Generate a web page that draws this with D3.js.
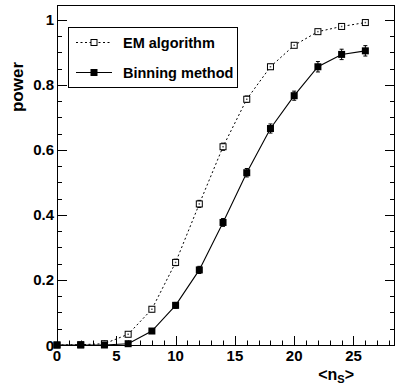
<!DOCTYPE html>
<html><head><meta charset="utf-8">
<script src="https://cdn.jsdelivr.net/npm/d3@7"></script>
<style>body{margin:0;background:#fff}svg{display:block}</style>
</head><body>
<script>
const nsValues = [0,2,4,6,8,10,12,14,16,18,20,22,24,26];
const emPower  = [0,0.001,0.004,0.033,0.11,0.254,0.434,0.61,0.756,0.856,0.922,0.964,0.98,0.992];
const emErr    = [0,0.002,0.003,0.005,0.008,0.01,0.011,0.011,0.01,0.008,0.006,0.005,0.004,0.003];
const binPower = [0,0,0,0.004,0.043,0.122,0.231,0.377,0.53,0.666,0.767,0.856,0.894,0.905];
const binErr   = [0,0.002,0.002,0.003,0.006,0.009,0.011,0.012,0.013,0.014,0.014,0.016,0.016,0.016];
const xTickLabels = [0,5,10,15,20,25];
const yTickLabels = [0,0.2,0.4,0.6,0.8,1];
const seriesNames = ["EM algorithm","Binning method"];

const W=395,H=388;
const L=57,T=5,R=395,B=345;
const svg=d3.select("body").append("svg").attr("width",W).attr("height",H);
const x=d3.scaleLinear().domain([0,28.5]).range([L,R]);
const y=d3.scaleLinear().domain([0,1.046]).range([B,T]);
const font="Liberation Sans, Arial, Helvetica, sans-serif";

// frame
svg.append("rect").attr("x",L+0.5).attr("y",T+0.5).attr("width",R-L-1).attr("height",B-T)
  .attr("fill","none").attr("stroke","#000").attr("stroke-width",1);

// x axis ticks
const xAxis=d3.axisBottom(x).tickValues(d3.range(0,29,1)).tickSize(0).tickFormat("");
const gx=svg.append("g");
d3.range(0,29,1).forEach(v=>{
  const len = v%5===0?9:4.5;
  gx.append("line").attr("x1",Math.round(x(v))+0.5).attr("x2",Math.round(x(v))+0.5)
    .attr("y1",B).attr("y2",B-len).attr("stroke","#000");
});
gx.selectAll("text.xt").data(xTickLabels).enter().append("text")
  .attr("x",d=>x(d)).attr("y",B+16).attr("text-anchor","middle")
  .attr("font-family",font).attr("font-weight","bold").attr("font-size",15).text(d=>d);

// y axis ticks (left and right)
const gy=svg.append("g");
d3.range(0,21,1).map(i=>i*0.05).forEach((v,i)=>{
  const len = i%4===0?10:5;
  const yy=Math.round(y(v))+0.5;
  gy.append("line").attr("x1",L).attr("x2",L+len).attr("y1",yy).attr("y2",yy).attr("stroke","#000");
  gy.append("line").attr("x1",R).attr("x2",R-len).attr("y1",yy).attr("y2",yy).attr("stroke","#000");
});
gy.selectAll("text.yt").data(yTickLabels).enter().append("text")
  .attr("x",L-3).attr("y",d=>y(d)+5.5).attr("text-anchor","end")
  .attr("font-family",font).attr("font-weight","bold").attr("font-size",15).text(d=>d);

// axis titles
svg.append("text").attr("transform",`translate(23,62) rotate(-90)`).attr("text-anchor","end")
  .attr("font-family",font).attr("font-weight","bold").attr("font-size",17).text("power");
const xt=svg.append("text").attr("x",354).attr("y",380).attr("text-anchor","end")
  .attr("font-family",font).attr("font-weight","bold").attr("font-size",16);
xt.append("tspan").text("<n");
xt.append("tspan").attr("font-size",11).attr("dy",3).text("S");
xt.append("tspan").attr("dy",-3).text(">");

const line=d3.line().x(d=>x(d[0])).y(d=>y(d[1]));
const emData=nsValues.map((v,i)=>[v,emPower[i],emErr[i]]);
const binData=nsValues.map((v,i)=>[v,binPower[i],binErr[i]]);

// lines
svg.append("path").datum(emData).attr("d",line).attr("fill","none").attr("stroke","#000")
  .attr("stroke-width",1).attr("stroke-dasharray","2,2.5");
svg.append("path").datum(binData).attr("d",line).attr("fill","none").attr("stroke","#000")
  .attr("stroke-width",1.1);

function errBars(data){
  const g=svg.append("g").attr("stroke","#000").attr("stroke-width",1);
  data.forEach(d=>{
    const cx=x(d[0]), y1=y(d[1]-d[2]), y2=y(d[1]+d[2]);
    if(y1-y2<4) return;
    g.append("line").attr("x1",cx).attr("x2",cx).attr("y1",y1).attr("y2",y2);
    g.append("line").attr("x1",cx-2).attr("x2",cx+2).attr("y1",y1).attr("y2",y1);
    g.append("line").attr("x1",cx-2).attr("x2",cx+2).attr("y1",y2).attr("y2",y2);
  });
}
errBars(binData);
errBars(emData);

// markers
svg.append("g").selectAll("rect").data(emData).enter().append("rect")
  .attr("x",d=>x(d[0])-3).attr("y",d=>y(d[1])-3).attr("width",6).attr("height",6)
  .attr("fill","#fff").attr("stroke","#000").attr("stroke-width",1);
svg.append("g").selectAll("rect").data(emData).enter().append("rect")
  .attr("x",d=>x(d[0])-0.75).attr("y",d=>y(d[1])-0.75).attr("width",1.5).attr("height",1.5)
  .attr("fill","#555");
svg.append("g").selectAll("rect").data(binData).enter().append("rect")
  .attr("x",d=>x(d[0])-3.5).attr("y",d=>y(d[1])-3.5).attr("width",7).attr("height",7)
  .attr("fill","#000");

// legend
const lg=svg.append("g");
lg.append("rect").attr("x",68.5).attr("y",27.5).attr("width",169).attr("height",60)
  .attr("fill","#fff").attr("stroke","#000").attr("stroke-width",1);
const ly=[42.5,72.5];
lg.append("line").attr("x1",76).attr("x2",112).attr("y1",ly[0]).attr("y2",ly[0])
  .attr("stroke","#000").attr("stroke-dasharray","2,2.5");
lg.append("rect").attr("x",91).attr("y",ly[0]-3).attr("width",6).attr("height",6)
  .attr("fill","#fff").attr("stroke","#000");
lg.append("line").attr("x1",76).attr("x2",112).attr("y1",ly[1]).attr("y2",ly[1])
  .attr("stroke","#000").attr("stroke-width",1.1);
lg.append("rect").attr("x",90.5).attr("y",ly[1]-3.5).attr("width",7).attr("height",7).attr("fill","#000");
seriesNames.forEach((n,i)=>{
  lg.append("text").attr("x",123).attr("y",ly[i]+5).attr("font-family",font)
    .attr("font-weight","bold").attr("font-size",14.5).text(n);
});
</script>
</body></html>
